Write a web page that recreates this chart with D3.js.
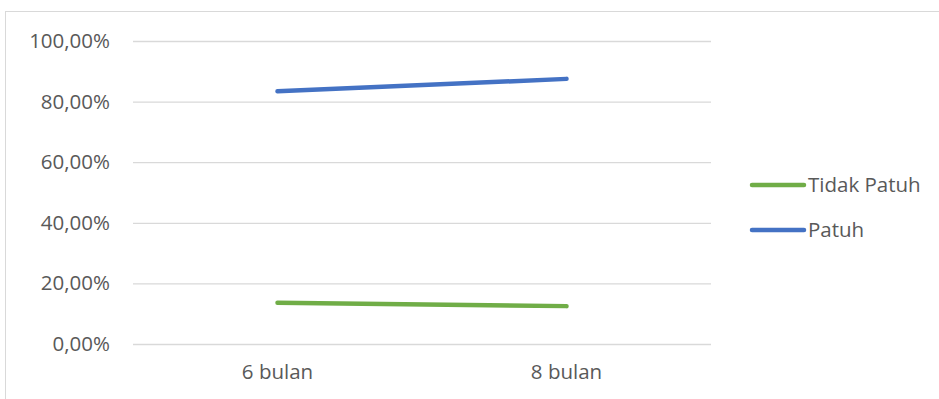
<!DOCTYPE html>
<html>
<head>
<meta charset="utf-8">
<script src="https://cdn.jsdelivr.net/npm/d3@7"></script>
<style>
  body { margin: 0; background: #fff; }
  text { font-family: "Open Sans", "Noto Sans", sans-serif; fill: #595959; }
</style>
</head>
<body>
<script>
var categories = ["6 bulan", "8 bulan"];
var seriesNames = ["Tidak Patuh", "Patuh"];
var tidakPatuh = [0.136, 0.125];
var patuh = [0.834, 0.875];
var yTicks = [0, 0.2, 0.4, 0.6, 0.8, 1.0];
var colors = ["#70AD47", "#4472C4"];

var svg = d3.select("body").append("svg")
  .attr("width", 939)
  .attr("height", 399);

// chart border
svg.append("rect")
  .attr("x", 5.5).attr("y", 11.5)
  .attr("width", 960).attr("height", 420)
  .style("fill", "none")
  .style("stroke", "#d9d9d9");

var x = d3.scaleBand().domain(categories).range([133, 711]);
var y = d3.scaleLinear().domain([0, 1]).range([344, 41]);

var fmt = function(v){ return d3.format(".2f")(v * 100).replace(".", ",") + "%"; };

var yAxis = svg.append("g")
  .attr("transform", "translate(133,0)")
  .call(d3.axisLeft(y).tickValues(yTicks).tickSize(-578).tickPadding(23).tickFormat(fmt));
yAxis.select(".domain").remove();
yAxis.selectAll("line").style("stroke", "#d9d9d9").style("stroke-width", 1.3);
yAxis.selectAll("text").style("font-size", "20.5px").style("fill", "#595959");

var xAxis = svg.append("g")
  .attr("transform", "translate(0,344)")
  .call(d3.axisBottom(x).tickSize(0).tickPadding(20));
xAxis.select(".domain").remove();
xAxis.selectAll("text").style("font-size", "20.5px").style("fill", "#595959");

var line = d3.line()
  .x(function(d, i){ return x(categories[i]) + x.bandwidth() / 2; })
  .y(function(d){ return y(d); });

var allSeries = [tidakPatuh, patuh];
svg.selectAll(".series")
  .data(allSeries)
  .enter().append("path")
  .attr("class", "series")
  .attr("d", line)
  .style("fill", "none")
  .style("stroke", function(d, i){ return colors[i]; })
  .style("stroke-width", 4.5)
  .style("stroke-linecap", "round");

// legend
var legend = svg.selectAll(".legend")
  .data(seriesNames)
  .enter().append("g")
  .attr("class", "legend")
  .attr("transform", function(d, i){ return "translate(0," + (185 + i * 45) + ")"; });

legend.append("line")
  .attr("x1", 752).attr("x2", 804)
  .style("stroke", function(d, i){ return colors[i]; })
  .style("stroke-width", 4.5)
  .style("stroke-linecap", "round");

legend.append("text")
  .attr("x", 808).attr("dy", "0.35em")
  .style("font-size", "20.5px")
  .text(function(d){ return d; });
</script>
</body>
</html>
